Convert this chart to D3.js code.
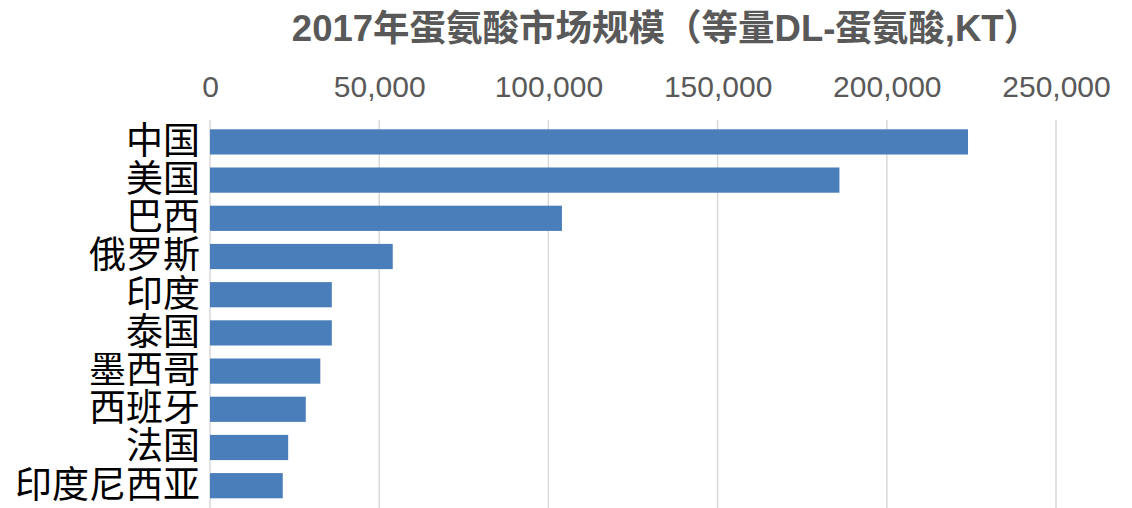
<!DOCTYPE html>
<html>
<head>
<meta charset="utf-8">
<script src="https://cdn.jsdelivr.net/npm/d3@7/dist/d3.min.js"></script>
<style>
  html, body { margin: 0; padding: 0; background: #ffffff; }
  svg { display: block; }
</style>
</head>
<body>
<svg id="chart" width="1132" height="508"></svg>
<script>
// 2017 methionine market size by country (DL-methionine equivalent, KT)
const titleText = "2017年蛋氨酸市场规模（等量DL-蛋氨酸,KT）";
const countries = ["中国", "美国", "巴西", "俄罗斯", "印度", "泰国", "墨西哥", "西班牙", "法国", "印度尼西亚"];
const marketSize = [224000, 186000, 104000, 54000, 36000, 36000, 32600, 28300, 23100, 21500];
const tickValues = [0, 50000, 100000, 150000, 200000, 250000];

const svg = d3.select("#chart");
const W = 1132, H = 508;
const plot = { left: 210, right: 1056, top: 122.8, bottom: 504.8 };

const x = d3.scaleLinear().domain([0, 250000]).range([plot.left, plot.right]);
const y = d3.scaleBand().domain(countries).range([plot.top, plot.bottom])
  .paddingInner(0.34).paddingOuter(0.17);

// title
svg.append("text")
  .attr("x", 666).attr("y", 41)
  .attr("text-anchor", "middle")
  .attr("font-family", "'Liberation Sans', 'Noto Sans CJK SC', sans-serif")
  .attr("font-weight", "bold")
  .attr("font-size", 36.5)
  .attr("fill", "#595959")
  .text(titleText);

// vertical gridlines
svg.append("g").selectAll("line")
  .data(tickValues).join("line")
  .attr("x1", d => x(d)).attr("x2", d => x(d))
  .attr("y1", 120).attr("y2", H)
  .attr("stroke", "#d9d9d9").attr("stroke-width", 1.5);

// top axis tick labels
const xAxis = d3.axisTop(x).tickValues(tickValues)
  .tickFormat(d3.format(",")).tickSize(0).tickPadding(0);
const gx = svg.append("g").attr("transform", "translate(0,97)").call(xAxis);
gx.select(".domain").remove();
gx.selectAll("text")
  .attr("font-family", "'Liberation Sans', Arial, sans-serif")
  .attr("font-size", 30)
  .attr("fill", "#595959")
  .attr("dy", 0);

// bars
svg.append("g").selectAll("rect")
  .data(countries).join("rect")
  .attr("x", x(0))
  .attr("y", d => y(d))
  .attr("width", (d, i) => x(marketSize[i]) - x(0))
  .attr("height", y.bandwidth())
  .attr("fill", "#4a7ebb");

// country labels
const yAxis = d3.axisLeft(y).tickSize(0).tickPadding(10);
const gy = svg.append("g").attr("transform", `translate(${plot.left},0)`).call(yAxis);
gy.select(".domain").remove();
gy.selectAll("text")
  .attr("font-family", "'Noto Sans CJK SC', sans-serif")
  .attr("font-size", 37)
  .attr("fill", "#000000");
</script>
</body>
</html>
